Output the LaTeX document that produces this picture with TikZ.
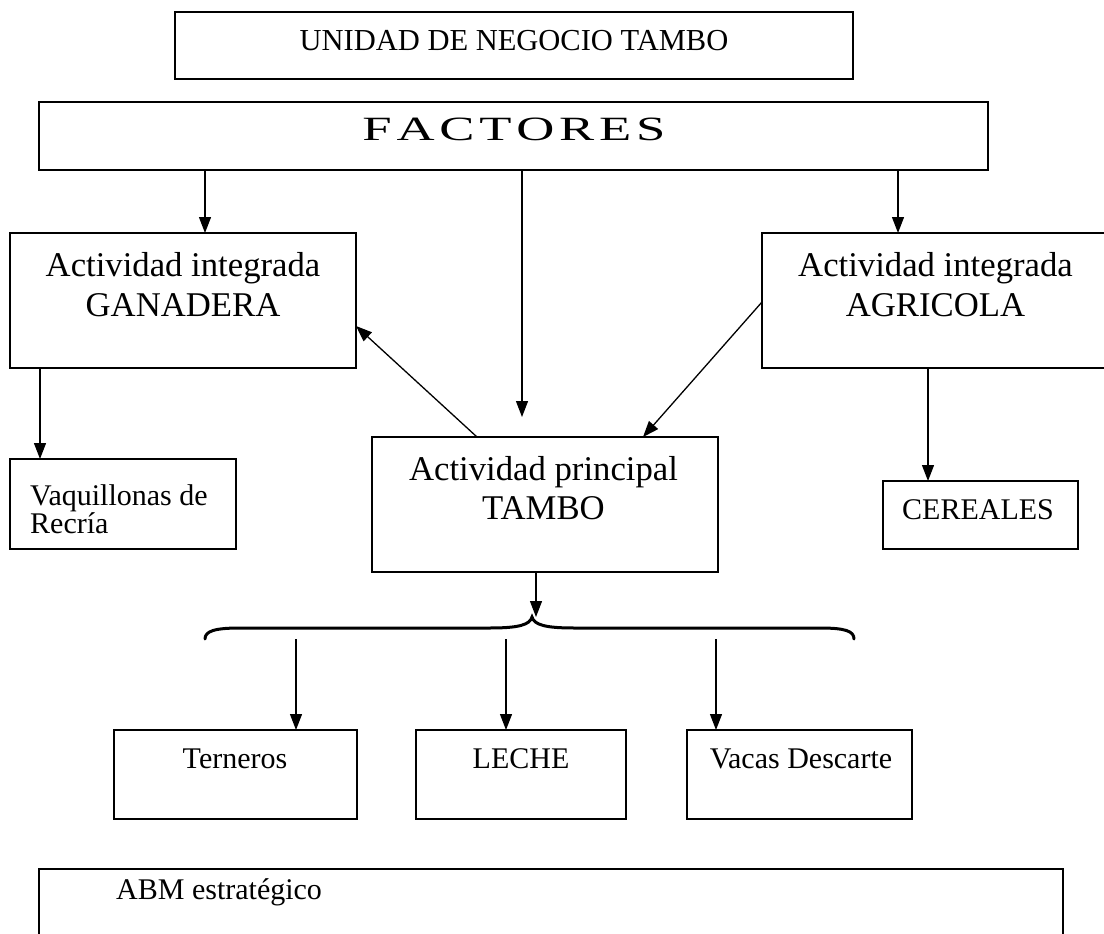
\documentclass[tikz,border=0pt]{standalone}
\usepackage{fontspec}
\setmainfont{Liberation Serif}
\usepackage{graphicx}
\usetikzlibrary{arrows.meta}
\begin{document}
\begin{tikzpicture}[x=1pt,y=-1pt,
  box/.style={draw, line width=1.8pt, inner sep=0pt, outer sep=0pt, anchor=north west},
  arr/.style={line width=1.3pt, -{Triangle[length=16pt,width=12pt]}},
  bigtxt/.style={font=\fontsize{34.7}{40}\selectfont, inner sep=0pt, anchor=base},
  smalltxt/.style={font=\fontsize{30}{34}\selectfont, inner sep=0pt, anchor=base},
  bracestyle/.style={line width=3pt, line cap=round}]
\useasboundingbox (0,0) rectangle (1104,934);
\clip (0,0) rectangle (1104,934);
% boxes
\node[box, minimum width=678pt, minimum height=67pt] (unidad) at (175,12) {};
\node[box, minimum width=949pt, minimum height=68pt] (factores) at (39,102) {};
\node[box, minimum width=346pt, minimum height=135pt] (ganadera) at (10,233) {};
\node[box, minimum width=353pt, minimum height=135pt] (agricola) at (762,233) {};
\node[box, minimum width=226pt, minimum height=90pt] (vaq) at (10,459) {};
\node[box, minimum width=346pt, minimum height=135pt] (tambo) at (372,437) {};
\node[box, minimum width=195pt, minimum height=68pt] (cereales) at (883,481) {};
\node[box, minimum width=243pt, minimum height=89pt] (terneros) at (114,730) {};
\node[box, minimum width=210pt, minimum height=89pt] (leche) at (416,730) {};
\node[box, minimum width=225pt, minimum height=89pt] (vacas) at (687,730) {};
\node[box, minimum width=1024pt, minimum height=91pt] (abm) at (39,869) {};
% texts
\node[smalltxt, font=\fontsize{30.5}{34}\selectfont] (tunidad) at (514,51) {UNIDAD DE NEGOCIO TAMBO};
\node[smalltxt, font=\fontsize{34}{38}\selectfont] (tfactores) at (514,140) {\scalebox{1.55}[1]{F\hspace{3.1pt}A\hspace{3.1pt}C\hspace{3.1pt}T\hspace{3.1pt}O\hspace{3.1pt}R\hspace{3.1pt}E\hspace{3.1pt}S}};
\node[bigtxt] (tgan1) at (183,276) {Actividad integrada};
\node[bigtxt] (tgan2) at (183,316) {GANADERA};
\node[bigtxt] (tagr1) at (935.5,276) {Actividad integrada};
\node[bigtxt] (tagr2) at (935.5,316) {AGRICOLA};
\node[bigtxt] (ttam1) at (543.5,480) {Actividad principal};
\node[bigtxt] (ttam2) at (543.5,519) {TAMBO};
\node[smalltxt, anchor=base west] (tvaq1) at (30,505) {Vaquillonas de};
\node[smalltxt, anchor=base west] (tvaq2) at (30,533.5) {Recría};
\node[smalltxt, anchor=base west] (tcer) at (902,519) {CEREALES};
\node[smalltxt] (tter) at (235,768) {Terneros};
\node[smalltxt] (tlec) at (521,768) {LECHE};
\node[smalltxt] (tvac) at (801,768) {Vacas Descarte};
\node[smalltxt, anchor=base west] (tabm) at (116,899) {ABM estratégico};
% helper coordinates
\coordinate (xg) at (205,0);
\coordinate (xc) at (522,0);
\coordinate (xa) at (898,0);
\coordinate (ctip) at (522,417);
\coordinate (xv) at (40,0);
\coordinate (xce) at (928,0);
\coordinate (xt1) at (477,0);
\coordinate (yg) at (0,326);
\coordinate (ya) at (0,302);
\coordinate (xt2) at (643,0);
\coordinate (xb) at (536,0);
\coordinate (bcusp) at (536,617);
\coordinate (b1) at (296,639);
\coordinate (b2) at (506,639);
\coordinate (b3) at (716,639);
% connectors
\draw[arr] (factores.south -| xg) -- (ganadera.north -| xg);
\draw[arr] (factores.south -| xc) -- (ctip);
\draw[arr] (factores.south -| xa) -- (agricola.north -| xa);
\draw[arr] (ganadera.south -| xv) -- (vaq.north -| xv);
\draw[arr] (agricola.south -| xce) -- (cereales.north -| xce);
\draw[arr] (tambo.north -| xt1) -- (ganadera.east |- yg);
\draw[arr] (agricola.west |- ya) -- (tambo.north -| xt2);
\draw[arr] (tambo.south -| xb) -- (bcusp);
% brace
\draw[bracestyle] (205,639) .. controls (205,631) and (215,628) .. (240,628) -- (490,628)
  .. controls (518,628) and (530,625) .. (532,617)
  .. controls (534,625) and (546,628) .. (574,628) -- (820,628)
  .. controls (845,628) and (854,631) .. (854,639);
\draw[arr] (b1) -- (terneros.north -| b1);
\draw[arr] (b2) -- (leche.north -| b2);
\draw[arr] (b3) -- (vacas.north -| b3);
\end{tikzpicture}
\end{document}
